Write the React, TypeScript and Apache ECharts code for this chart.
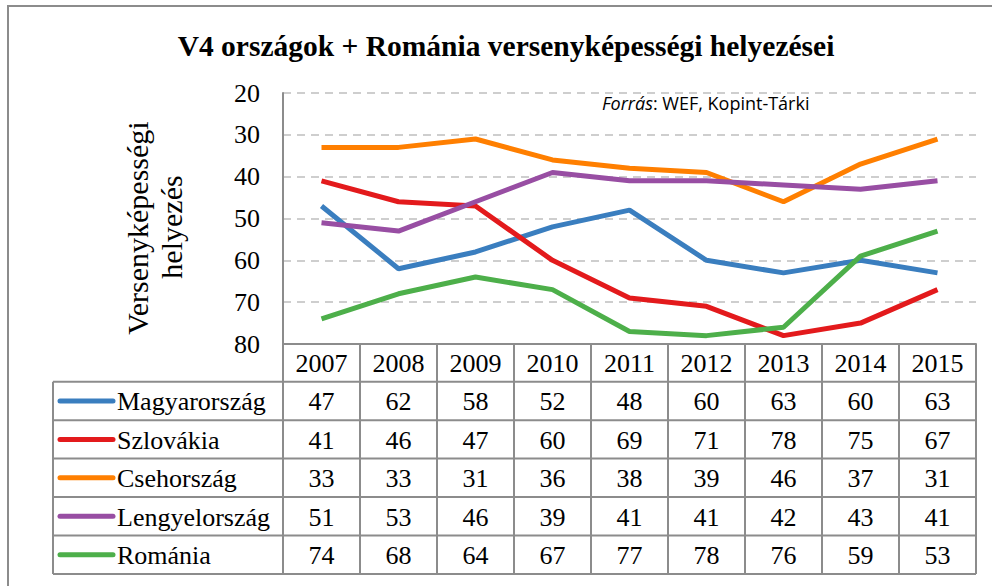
import React, { useEffect, useRef } from "react";
import * as echarts from "echarts";

const years = ["2007", "2008", "2009", "2010", "2011", "2012", "2013", "2014", "2015"];
const seriesNames = ["Magyarország", "Szlovákia", "Csehország", "Lengyelország", "Románia"];
const magyarorszag = [47, 62, 58, 52, 48, 60, 63, 60, 63];
const szlovakia = [41, 46, 47, 60, 69, 71, 78, 75, 67];
const csehorszag = [33, 33, 31, 36, 38, 39, 46, 37, 31];
const lengyelorszag = [51, 53, 46, 39, 41, 41, 42, 43, 41];
const romania = [74, 68, 64, 67, 77, 78, 76, 59, 53];
const seriesColors = ["#3a7ebf", "#e31a1c", "#ff7f00", "#984ea3", "#4daf4a"];
const yTicks = [20, 30, 40, 50, 60, 70, 80];

const allData = [magyarorszag, szlovakia, csehorszag, lengyelorszag, romania];

export default function App() {
  const ref = useRef<HTMLDivElement>(null);
  useEffect(() => {
    if (!ref.current) return;
    const chart = echarts.init(ref.current, null, { renderer: "svg" });

    const gridLeft = 283;
    const gridTop = 93;
    const gridW = 693;
    const gridH = 251;
    const colW = gridW / years.length;
    const tableLeft = 53;
    const headerBottom = 381.7;
    const rowH = 38.46;
    const tableBottom = headerBottom + rowH * seriesNames.length;
    const lineColor = "#8c8c8c";
    const serif = "Liberation Serif";

    const graphics: any[] = [];
    graphics.push({
      type: "rect",
      shape: { x: 8, y: 6, width: 1100, height: 700 },
      style: { fill: "none", stroke: lineColor, lineWidth: 2 },
      silent: true,
    });
    for (let r = 0; r <= seriesNames.length; r++) {
      const y = headerBottom + rowH * r;
      graphics.push({
        type: "line",
        shape: { x1: tableLeft, y1: y, x2: gridLeft + gridW, y2: y },
        style: { stroke: lineColor, lineWidth: 2 },
        silent: true,
      });
    }
    for (let c = 0; c <= years.length; c++) {
      const x = gridLeft + colW * c;
      graphics.push({
        type: "line",
        shape: { x1: x, y1: gridTop + gridH, x2: x, y2: tableBottom },
        style: { stroke: lineColor, lineWidth: 2 },
        silent: true,
      });
    }
    graphics.push({
      type: "line",
      shape: { x1: tableLeft, y1: headerBottom, x2: tableLeft, y2: tableBottom },
      style: { stroke: lineColor, lineWidth: 2 },
      silent: true,
    });
    seriesNames.forEach((name, r) => {
      const cy = headerBottom + rowH * (r + 0.5);
      graphics.push({
        type: "line",
        shape: { x1: 60, y1: cy, x2: 113, y2: cy },
        style: { stroke: seriesColors[r], lineWidth: 5, lineCap: "round" },
        silent: true,
      });
      graphics.push({
        type: "text",
        x: 117,
        y: cy + 1,
        style: {
          text: name,
          fontFamily: serif,
          fontSize: 26,
          fill: "#000",
          verticalAlign: "middle",
          align: "left",
        },
        silent: true,
      });
      allData[r].forEach((v, c) => {
        graphics.push({
          type: "text",
          x: gridLeft + colW * (c + 0.5),
          y: cy + 1,
          style: {
            text: String(v),
            fontFamily: serif,
            fontSize: 26,
            fill: "#000",
            verticalAlign: "middle",
            align: "center",
          },
          silent: true,
        });
      });
    });
    graphics.push({
      type: "text",
      x: 137,
      y: 228,
      rotation: Math.PI / 2,
      style: {
        text: "Versenyképességi",
        fontFamily: serif,
        fontSize: 30,
        fill: "#000",
        align: "center",
        verticalAlign: "middle",
      },
      silent: true,
    });
    graphics.push({
      type: "text",
      x: 171,
      y: 227,
      rotation: Math.PI / 2,
      style: {
        text: "helyezés",
        fontFamily: serif,
        fontSize: 30,
        fill: "#000",
        align: "center",
        verticalAlign: "middle",
      },
      silent: true,
    });
    graphics.push({
      type: "text",
      x: 602,
      y: 103,
      style: {
        text: "{i|Forrás}{n|: WEF, Kopint-Tárki}",
        fill: "#000",
        verticalAlign: "middle",
        rich: {
          i: { fontStyle: "italic", fontSize: 18, fontFamily: "Open Sans", fill: "#000" },
          n: { fontSize: 18, fontFamily: "Open Sans", fill: "#000" },
        },
      },
      silent: true,
    });
    graphics.push({
      type: "text",
      x: 506,
      y: 46,
      style: {
        text: "V4 országok + Románia versenyképességi helyezései",
        fontFamily: serif,
        fontWeight: "bold",
        fontSize: 29.5,
        fill: "#000",
        align: "center",
        verticalAlign: "middle",
      },
      silent: true,
    });

    chart.setOption({
      animation: false,
      backgroundColor: "#fff",
      grid: { left: gridLeft, top: gridTop, width: gridW, height: gridH },
      xAxis: {
        type: "category",
        data: years,
        boundaryGap: true,
        axisLine: { show: true, lineStyle: { color: lineColor, width: 2 } },
        axisTick: { show: false },
        axisLabel: {
          color: "#000",
          fontFamily: serif,
          fontSize: 26,
          lineHeight: 26,
          margin: 6,
        },
      },
      yAxis: {
        type: "value",
        inverse: true,
        min: 20,
        max: 80,
        interval: 10,
        axisLine: { show: true, lineStyle: { color: lineColor, width: 2 } },
        axisTick: { show: false },
        axisLabel: {
          color: "#000",
          fontFamily: serif,
          fontSize: 26,
          margin: 23,
          formatter: (v: number) => (yTicks.includes(v) ? String(v) : ""),
        },
        splitLine: {
          show: true,
          lineStyle: { color: "#bfbfbf", width: 1.5, type: [8, 6] },
        },
      },
      series: seriesNames.map((name, i) => ({
        name,
        type: "line",
        data: allData[i],
        symbol: "none",
        lineStyle: { color: seriesColors[i], width: 5 },
        itemStyle: { color: seriesColors[i] },
      })),
      graphic: graphics,
    });
    return () => chart.dispose();
  }, []);
  return (
    <div
      ref={ref}
      style={{ position: "absolute", left: 0, top: 0, width: 992, height: 586 }}
    />
  );
}
